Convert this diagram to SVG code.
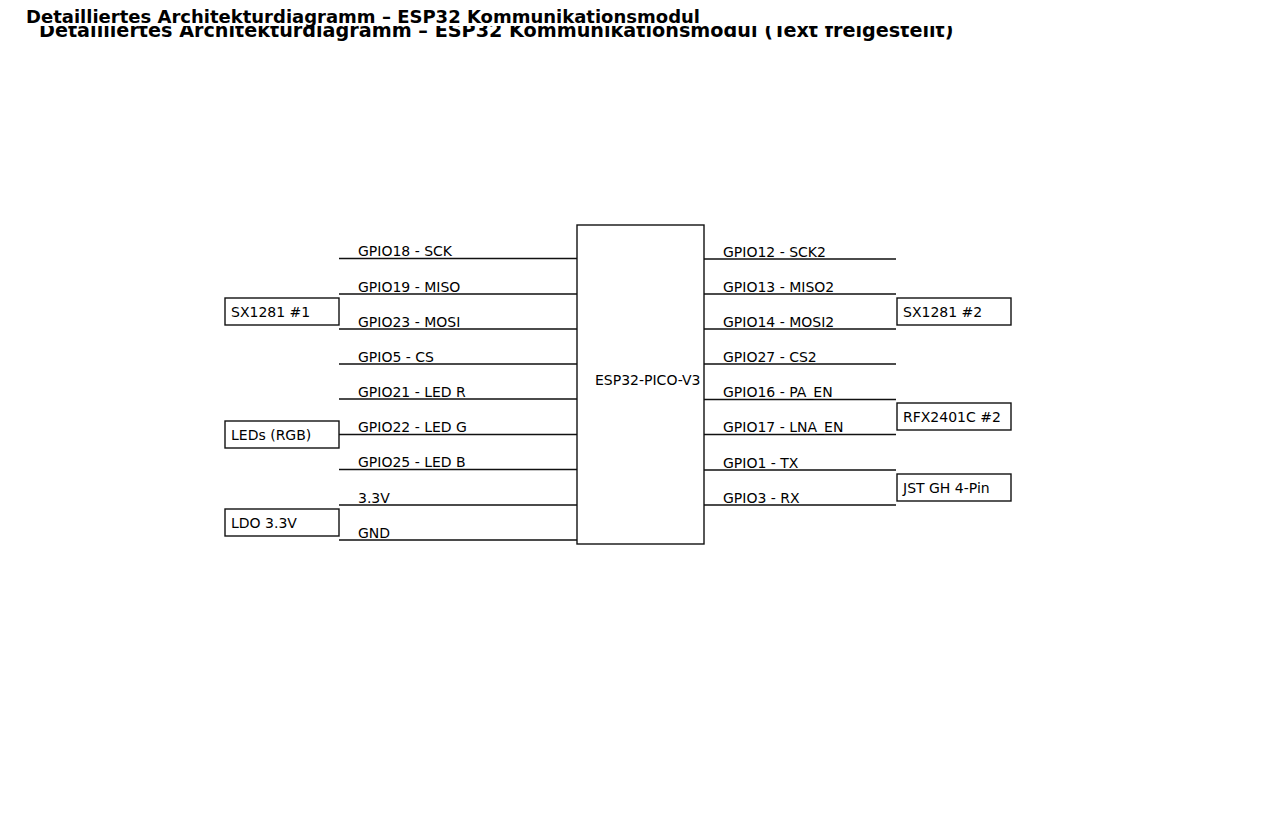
<svg xmlns="http://www.w3.org/2000/svg" width="1280" height="832" viewBox="0 0 1280 832">
<style>
text{font-family:"DejaVu Sans","Liberation Sans",sans-serif;fill:#000}
.title{font-size:18px;font-weight:bold}
.title2{font-size:19.2px;font-weight:bold}
.lbl{font-size:14px}
.box{fill:#fff;stroke:#111;stroke-width:1.4}
.wire{stroke:#111;stroke-width:1.3;fill:none}
</style>
<rect width="1280" height="832" fill="#fff"/>
<text class="title2" x="39" y="36.5">Detailliertes Architekturdiagramm – ESP32 Kommunikationsmodul (Text freigestellt)</text>
<rect x="0" y="0" width="1280" height="26" fill="#fff"/>
<text class="title" x="26" y="23">Detailliertes Architekturdiagramm – ESP32 Kommunikationsmodul</text>
<g id="connectors">
<path class="wire" d="M339 258.5H577M339 294H577M339 329H577M339 364H577M339 399H577M339 434.5H577M339 469.5H577M339 505H577M339 540H577"/>
<path class="wire" d="M704 259H896M704 294H896M704 329H896M704 364H896M704 399.5H896M704 434.5H896M704 470H896M704 505H896"/>
<g class="lbl">
<text class="lbl" x="358" y="256">GPIO18 - SCK</text>
<text class="lbl" x="358" y="291.5">GPIO19 - MISO</text>
<text class="lbl" x="358" y="326.5">GPIO23 - MOSI</text>
<text class="lbl" x="358" y="361.5">GPIO5 - CS</text>
<text class="lbl" x="358" y="396.5">GPIO21 - LED R</text>
<text class="lbl" x="358" y="432">GPIO22 - LED G</text>
<text class="lbl" x="358" y="467">GPIO25 - LED B</text>
<text class="lbl" x="358" y="502.5">3.3V</text>
<text class="lbl" x="358" y="538">GND</text>
<text class="lbl" x="723" y="256.5">GPIO12 - SCK2</text>
<text class="lbl" x="723" y="291.5">GPIO13 - MISO2</text>
<text class="lbl" x="723" y="326.5">GPIO14 - MOSI2</text>
<text class="lbl" x="723" y="361.5">GPIO27 - CS2</text>
<text class="lbl" x="723" y="397">GPIO16 - PA_EN</text>
<text class="lbl" x="723" y="432">GPIO17 - LNA_EN</text>
<text class="lbl" x="723" y="467.5">GPIO1 - TX</text>
<text class="lbl" x="723" y="502.5">GPIO3 - RX</text>
</g>
</g>
<g id="esp32"><rect class="box" x="577" y="225" width="127" height="319"/><text class="lbl" x="595" y="385">ESP32-PICO-V3</text></g>
<g id="sx1281-1"><rect class="box" x="225" y="298" width="114" height="27"/><text class="lbl" x="231" y="317">SX1281 #1</text></g>
<g id="leds"><rect class="box" x="225" y="421" width="114" height="27"/><text class="lbl" x="231" y="440">LEDs (RGB)</text></g>
<g id="ldo"><rect class="box" x="225" y="509" width="114" height="27"/><text class="lbl" x="231" y="528">LDO 3.3V</text></g>
<g id="sx1281-2"><rect class="box" x="897" y="298" width="114" height="27"/><text class="lbl" x="903" y="317">SX1281 #2</text></g>
<g id="rfx2401c"><rect class="box" x="897" y="403" width="114" height="27"/><text class="lbl" x="903" y="422">RFX2401C #2</text></g>
<g id="jst"><rect class="box" x="897" y="474" width="114" height="27"/><text class="lbl" x="903" y="493">JST GH 4-Pin</text></g>
</svg>
